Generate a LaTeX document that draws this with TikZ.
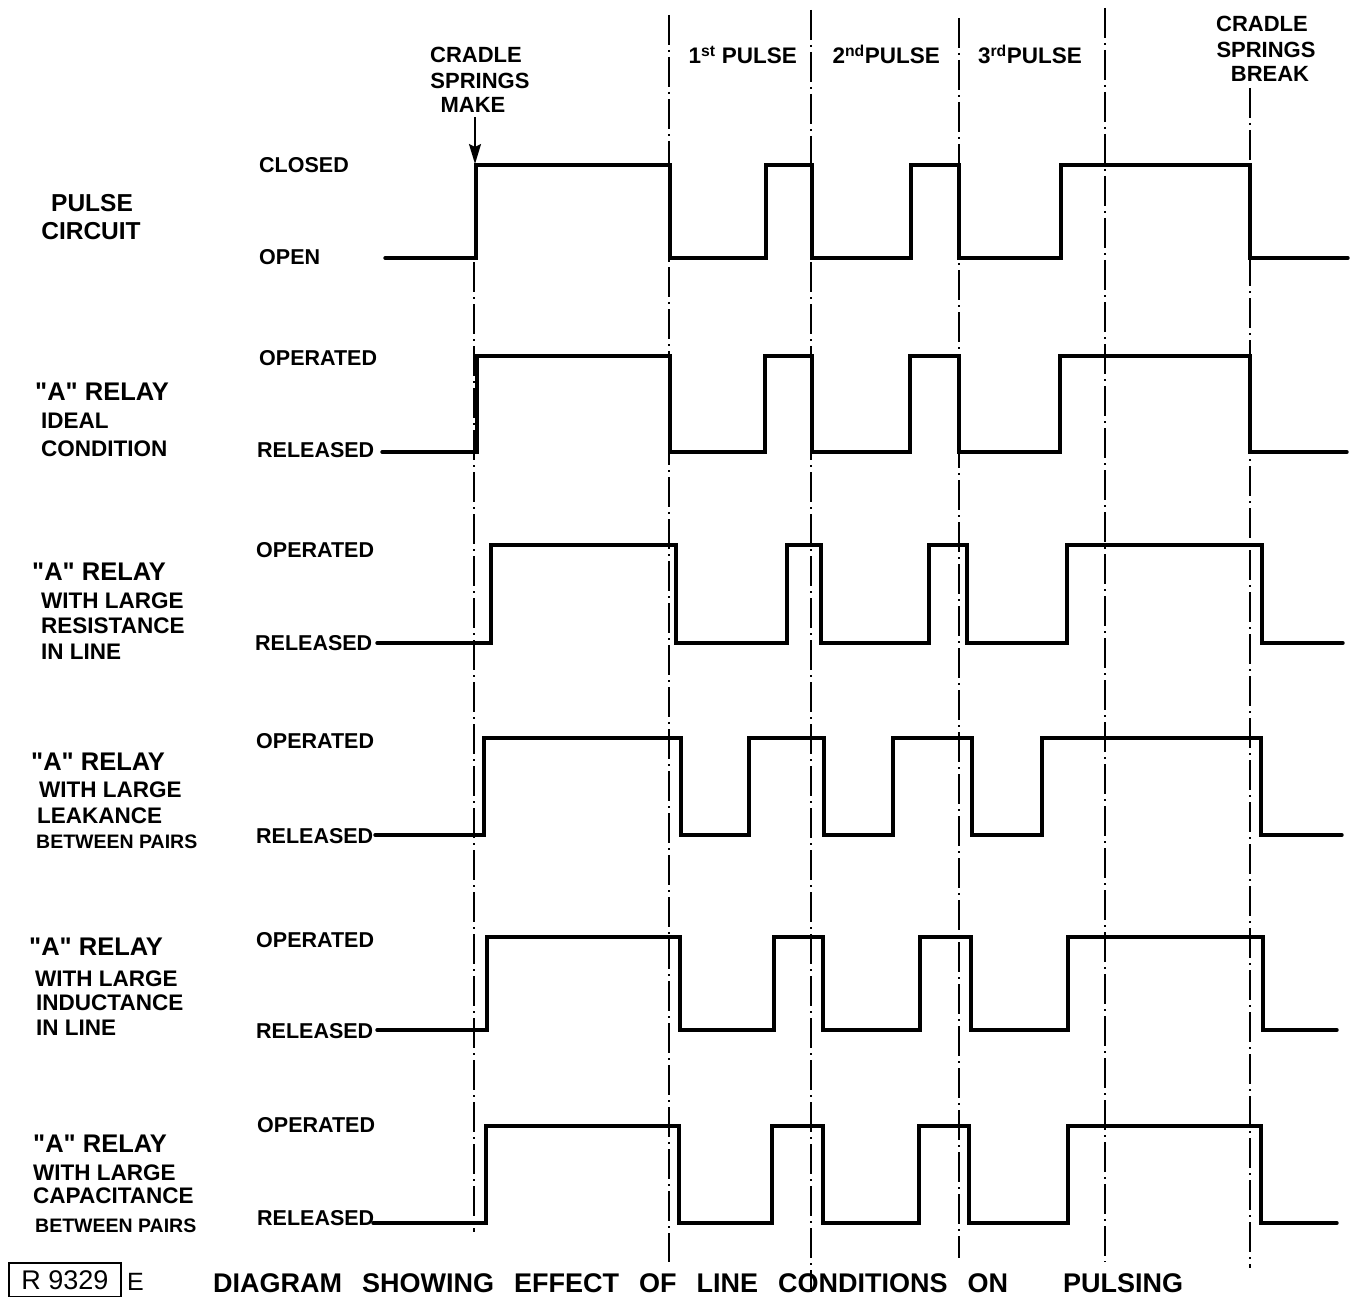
\documentclass[tikz,border=0pt]{standalone}
\usepackage{fontspec}
\setmainfont{Liberation Sans}[Ligatures=TeXOff]
\usetikzlibrary{arrows.meta}
\newcommand\wgap{\hspace{20pt}}
\begin{document}
\begin{tikzpicture}[x=1pt,y=-1pt,
  wave/.style={line width=3.4pt, line join=miter, line cap=round},
  guide/.style={line width=1.8pt, dash pattern=on 30pt off 5pt on 2pt off 5pt},
  lbl/.style={inner sep=0pt, anchor=base west, font=\fontsize{21.5}{24}\selectfont\bfseries},
  big/.style={inner sep=0pt, anchor=base west, font=\fontsize{25.5}{28}\selectfont\bfseries},
  sub/.style={inner sep=0pt, anchor=base west, font=\fontsize{22.5}{25}\selectfont\bfseries},
  small/.style={inner sep=0pt, anchor=base west, font=\fontsize{19.5}{22}\selectfont\bfseries},
  top/.style={inner sep=0pt, anchor=base, font=\fontsize{22}{24}\selectfont\bfseries},
  pls/.style={inner sep=0pt, anchor=base east, font=\fontsize{22.5}{25}\selectfont\bfseries}]
\useasboundingbox (0,0) rectangle (1356,1297);
\fill[white] (0,0) rectangle (1356,1297);

% guide lines (dash-dot)
\draw[guide] (474,262) -- (474,1232);
\draw[guide] (669,15) -- (669,1262);
\draw[guide] (811,10) -- (811,1292);
\draw[guide] (959,18) -- (959,1258);
\draw[guide] (1105,8) -- (1105,1262);
\draw[guide] (1250,88) -- (1250,1268);

% waveforms
\draw[wave] (385,258) -| (476,165) -| (670,258) -| (766,165) -| (812,258) -| (911,165) -| (959,258) -| (1061,165) -| (1250,258) -- (1348,258);
\draw[wave] (382,452) -| (477,356) -| (670,452) -| (765,356) -| (812,452) -| (910,356) -| (959,452) -| (1060,356) -| (1250,452) -- (1347,452);
\draw[wave] (377,643) -| (491,545) -| (676,643) -| (787,545) -| (821,643) -| (929,545) -| (967,643) -| (1067,545) -| (1262,643) -- (1343,643);
\draw[wave] (375,835) -| (484,738) -| (681,835) -| (749,738) -| (824,835) -| (893,738) -| (972,835) -| (1042,738) -| (1261,835) -- (1342,835);
\draw[wave] (377,1030) -| (487,937) -| (680,1030) -| (774,937) -| (823,1030) -| (920,937) -| (971,1030) -| (1068,937) -| (1263,1030) -- (1337,1030);
\draw[wave] (373,1223) -| (486,1126) -| (679,1223) -| (772,1126) -| (823,1223) -| (919,1126) -| (969,1223) -| (1068,1126) -| (1261,1223) -- (1337,1223);

% cradle springs make arrow
\coordinate (mkstart) at (475,117);
\coordinate (mkend) at (475,164);
\draw[line width=2pt, -{Stealth[length=20pt,width=12pt,inset=3pt]}] (mkstart) -- (mkend);

% top labels
\node[top] (cm1) at (476,63) {CRADLE};
\node[top] (cm2) at (480,89) {SPRINGS};
\node[top] (cm3) at (473,113) {MAKE};
\node[top] (cb1) at (1262,32) {CRADLE};
\node[top] (cb2) at (1266,58) {SPRINGS};
\node[top] (cb3) at (1270,82) {BREAK};
\node[pls] (p1) at (797,64) {1\textsuperscript{st} PULSE};
\node[pls] (p2) at (940,64) {2\textsuperscript{nd}PULSE};
\node[pls] (p3) at (1082,64) {3\textsuperscript{rd}PULSE};

% state labels
\node[lbl] (s1a) at (259,173) {CLOSED};
\node[lbl] (s1b) at (259,265) {OPEN};
\node[lbl] (s2a) at (259,365) {OPERATED};
\node[lbl] (s2b) at (257,457) {RELEASED};
\node[lbl] (s3a) at (256,557) {OPERATED};
\node[lbl] (s3b) at (255,650) {RELEASED};
\node[lbl] (s4a) at (256,748) {OPERATED};
\node[lbl] (s4b) at (256,843) {RELEASED};
\node[lbl] (s5a) at (256,947) {OPERATED};
\node[lbl] (s5b) at (256,1038) {RELEASED};
\node[lbl] (s6a) at (257,1132) {OPERATED};
\node[lbl] (s6b) at (257,1225) {RELEASED};

% row titles
\node[inner sep=0pt, anchor=base, font=\fontsize{24.5}{27}\selectfont\bfseries] (t1a) at (92,212) {PULSE};
\node[inner sep=0pt, anchor=base, font=\fontsize{24.5}{27}\selectfont\bfseries] (t1b) at (91,240) {CIRCUIT};

\node[big] (t2a) at (35,400) {"A" RELAY};
\node[sub] (t2b) at (41,428) {IDEAL};
\node[sub] (t2c) at (41,456) {CONDITION};

\node[big] (t3a) at (32,580) {"A" RELAY};
\node[sub] (t3b) at (41,608) {WITH LARGE};
\node[sub] (t3c) at (41,633) {RESISTANCE};
\node[sub] (t3d) at (41,659) {IN LINE};

\node[big] (t4a) at (31,770) {"A" RELAY};
\node[sub] (t4b) at (39,797) {WITH LARGE};
\node[sub] (t4c) at (37,823) {LEAKANCE};
\node[small] (t4d) at (36,848) {BETWEEN PAIRS};

\node[big] (t5a) at (29,955) {"A" RELAY};
\node[sub] (t5b) at (35,986) {WITH LARGE};
\node[sub] (t5c) at (36,1010) {INDUCTANCE};
\node[sub] (t5d) at (36,1035) {IN LINE};

\node[big] (t6a) at (33,1152) {"A" RELAY};
\node[sub] (t6b) at (33,1180) {WITH LARGE};
\node[sub] (t6c) at (33,1203) {CAPACITANCE};
\node[small] (t6d) at (35,1232) {BETWEEN PAIRS};

% caption
\node[draw, line width=2.8pt, minimum width=112pt, minimum height=34pt, inner sep=0pt,
      font=\fontsize{27}{29}\selectfont] (ref) at (65,1280) {R 9329};
\node[inner sep=0pt, anchor=base west, font=\fontsize{25}{27}\selectfont] (refe) at (127,1290) {E};
\node[inner sep=0pt, anchor=base west, font=\fontsize{27}{30}\selectfont\bfseries] (cap) at (213,1292)
  {DIAGRAM\wgap SHOWING\wgap EFFECT\wgap OF\wgap LINE\wgap CONDITIONS\wgap ON\hspace{55pt}PULSING};
\end{tikzpicture}
\end{document}
